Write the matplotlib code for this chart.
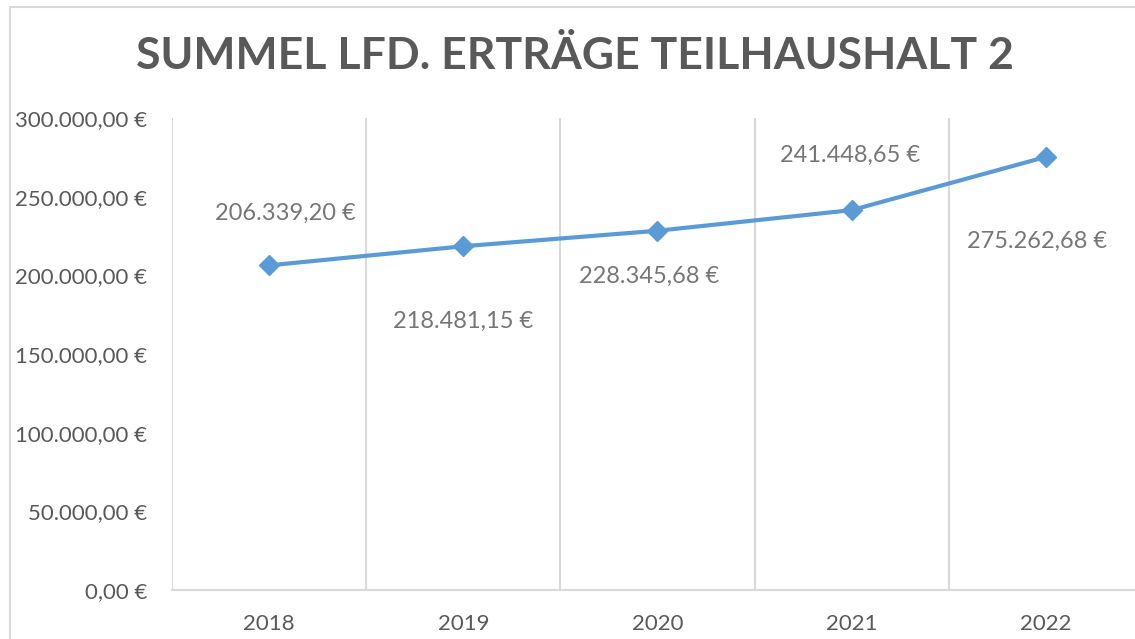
import matplotlib
matplotlib.use('Agg')
from matplotlib import pyplot as plt  # noqa
from matplotlib.patches import Rectangle
from matplotlib.ticker import FuncFormatter

YEARS = ['2018', '2019', '2020', '2021', '2022']
VALUES = [206339.20, 218481.15, 228345.68, 241448.65, 275262.68]
# label offsets (pixels) as placed in the original chart
LABEL_DX = [16, 0, -8, -2, -9]
LABEL_DY = [52, -75, -46, 55, -84]

LINE_COLOR = '#5B9BD5'
GRID_COLOR = '#D9D9D9'
TEXT_COLOR = '#595959'
LABEL_COLOR = '#767676'


def euro(v, pos=None):
    s = '{:,.2f}'.format(v)
    s = s.replace(',', 'X').replace('.', ',').replace('X', '.')
    return s + ' €'


plt.rcParams['font.family'] = ['Lato', 'DejaVu Sans']

fig = plt.figure(figsize=(11.35, 6.39), dpi=100)
W, H = 1135, 639

# chart border (cropped at right/bottom)
fig.patches.append(Rectangle((10 / W, -0.1), 1.2, (639 - 7) / H + 0.1,
                             transform=fig.transFigure, fill=False,
                             edgecolor=GRID_COLOR, linewidth=1.5))

ax = fig.add_axes([172 / W, (H - 590) / H, (1143 - 172) / W, 472 / H])

x = list(range(len(YEARS)))
ax.plot(x, VALUES, color=LINE_COLOR, linewidth=3, marker='D',
        markersize=10, zorder=3, clip_on=False)

for xi, v, dx, dy in zip(x, VALUES, LABEL_DX, LABEL_DY):
    ax.annotate(euro(v), (xi, v), xytext=(dx, dy), textcoords='offset pixels',
                ha='center', va='center', fontsize=17, color=LABEL_COLOR)

ax.set_xlim(-0.5, len(YEARS) - 0.5)
ax.set_ylim(0, 300000)
ax.set_yticks(range(0, 300001, 50000))
ax.yaxis.set_major_formatter(FuncFormatter(euro))
ax.set_xticks(x)
ax.set_xticklabels(YEARS)
ax.set_xticks([i - 0.5 for i in range(len(YEARS) + 1)], minor=True)
ax.grid(True, axis='x', which='minor', color=GRID_COLOR, linewidth=1.5)
ax.grid(False, axis='y')

ax.tick_params(axis='both', which='both', length=0)
ax.tick_params(axis='y', pad=18, labelsize=16, labelcolor=TEXT_COLOR)
ax.tick_params(axis='x', pad=17, labelsize=16, labelcolor=TEXT_COLOR)

for side in ['top', 'right', 'left']:
    ax.spines[side].set_visible(False)
ax.spines['bottom'].set_color(GRID_COLOR)
ax.spines['bottom'].set_linewidth(1.5)

fig.text(575 / W, 1 - 56 / H, 'SUMMEL LFD. ERTRÄGE TEILHAUSHALT 2',
         ha='center', va='center', fontsize=32, fontweight='bold',
         color=TEXT_COLOR)

fig.savefig('out.png', dpi=100)
